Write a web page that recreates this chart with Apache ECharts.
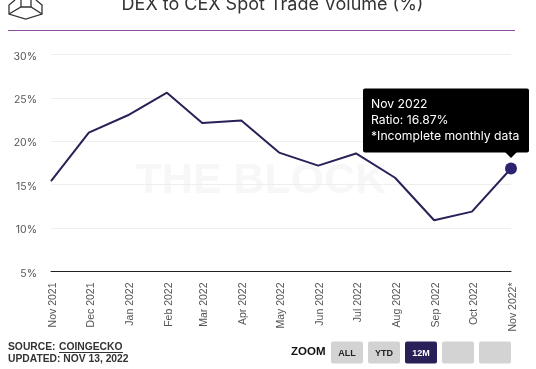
<!DOCTYPE html>
<html><head><meta charset="utf-8">
<style>html,body{margin:0;padding:0;background:#fff}#c{width:536px;height:369px}</style>
<script src="https://cdn.jsdelivr.net/npm/echarts@6/dist/echarts.min.js"></script>
</head><body><div id="c"></div>
<script>
const dates = ['2021-11-01','2021-12-01','2022-01-01','2022-02-01','2022-03-01','2022-04-01','2022-05-01','2022-06-01','2022-07-01','2022-08-01','2022-09-01','2022-10-01','2022-11-01'];
const categories = ['Nov 2021','Dec 2021','Jan 2022','Feb 2022','Mar 2022','Apr 2022','May 2022','Jun 2022','Jul 2022','Aug 2022','Sep 2022','Oct 2022','Nov 2022*'];
const ratio = [15.4,21.0,23.0,25.6,22.1,22.4,18.7,17.2,18.6,15.8,10.9,11.9,16.87];
const zoomButtons = ['ALL','YTD','12M','',''];
const chart = echarts.init(document.getElementById('c'), null, {renderer:'canvas'});
const navy = '#2a2058';
const stamps = dates.map(d=>Date.parse(d+'T00:00:00Z'));
const btn = zoomButtons.map((t,i)=>{
  const x = 331 + i*37;
  const active = t==='12M';
  return {type:'group',children:[
    {type:'rect',shape:{x:x,y:341.5,width:32,height:22,r:2},style:{fill:active?navy:'#d3d3d3'}},
    {type:'text',style:{x:x+16,y:353.5,text:t,align:'center',verticalAlign:'middle',fill:active?'#fff':'#222',font:'bold 9px "Liberation Sans"'}}
  ]};
});
const logoLines = [
  [[15,0],[9,5],[9,14],[25.7,19],[42,14],[42,5],[36,0]],
  [[9,14],[21,7],[31,7],[42,14]],
  [[21,7],[21,0]],[[31,7],[31,0]]
];
const option = {
  animation:false,
  grid:{left:51,right:25,top:54.5,bottom:97.5},
  xAxis:{type:'value',min:stamps[0],max:stamps[stamps.length-1],scale:true,
    axisLine:{lineStyle:{color:'#222',width:1}},axisTick:{show:false},splitLine:{show:false},
    axisLabel:{customValues:stamps,rotate:90,margin:11,color:'#555',fontSize:10.5,fontFamily:'Liberation Sans',
      showMinLabel:true,showMaxLabel:true,hideOverlap:false,
      rich:{a:{padding:[4,0,0,0],color:'#555',fontSize:10.5,fontFamily:'Liberation Sans'}},
      formatter:v=>'{a|'+categories[stamps.indexOf(v)]+'}'}},
  yAxis:{type:'value',min:5,max:30,interval:5,
    axisLine:{show:false},axisTick:{show:false},
    splitLine:{lineStyle:{color:'#eeeeee',width:1}},
    axisLabel:{formatter:'{a|{value}%}',color:'#555',fontSize:10.5,fontFamily:'Inter',margin:14,
      rich:{a:{padding:[4,0,0,0],color:'#555',fontSize:10.5,fontFamily:'Inter'}}}},
  series:[{type:'line',data:ratio.map((v,i)=>i===ratio.length-1?{
      value:[stamps[i],v],symbol:'circle',symbolSize:12,
      itemStyle:{color:'#2c2470',opacity:1},
      label:{show:true,position:'top',offset:[-148,-5],width:150,
        formatter:'Nov 2022\nRatio: '+v.toFixed(2)+'%\n*Incomplete monthly data',
        backgroundColor:'#000',color:'#fff',fontFamily:'Inter',fontSize:12.2,lineHeight:16,align:'left',
        padding:[8,8,8,8],borderRadius:2}
    }:[stamps[i],v]),
    symbol:'none',showSymbol:true,lineStyle:{color:navy,width:2},z:5}],
  graphic:[
    {type:'text',z:-1,style:{x:261,y:181,text:'THE BLOCK',align:'center',verticalAlign:'middle',fill:'#f7f7f7',font:'bold 43px "Liberation Sans"'}},
    {type:'text',style:{x:272.5,y:5,text:'DEX to CEX Spot Trade Volume (%)',align:'center',verticalAlign:'middle',fill:'#333',font:'18px Inter'}},
    {type:'rect',shape:{x:8,y:30,width:507,height:1},style:{fill:'#8a4f9e'}},
    ...logoLines.map(p=>({type:'polyline',shape:{points:p},style:{stroke:'#333',lineWidth:1.3,fill:null}})),
    {type:'polygon',z:20,shape:{points:[[505,152],[517,152],[511,158]]},style:{fill:'#000'}},
    {type:'text',style:{x:8,y:347.5,text:'SOURCE: ',verticalAlign:'middle',fill:'#333',font:'bold 10.3px "Liberation Sans"'}},
    {type:'text',style:{x:59,y:347.5,text:'COINGECKO',verticalAlign:'middle',fill:'#333',font:'bold 10.3px "Liberation Sans"'}},
    {type:'rect',shape:{x:59,y:352,width:64,height:1},style:{fill:'#333'}},
    {type:'text',style:{x:8,y:359,text:'UPDATED: NOV 13, 2022',verticalAlign:'middle',fill:'#333',font:'bold 10.3px "Liberation Sans"'}},
    {type:'text',style:{x:291,y:352,text:'ZOOM',verticalAlign:'middle',fill:'#111',font:'bold 11.5px "Liberation Sans"'}},
    ...btn
  ]
};
chart.setOption(option);
</script></body></html>
